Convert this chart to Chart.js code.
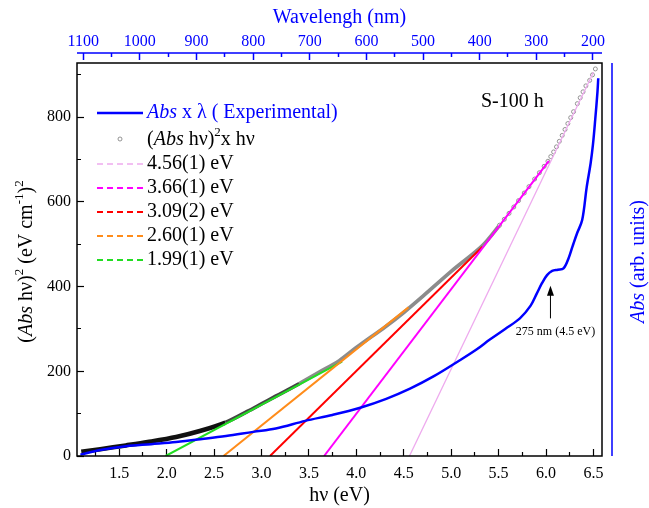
<!DOCTYPE html>
<html>
<head>
<meta charset="utf-8">
<script src="https://cdn.jsdelivr.net/npm/chart.js@4.4.1/dist/chart.umd.min.js"></script>
<style>
  body { margin: 0; background: #fff; }
  canvas { display: block; }
</style>
</head>
<body>
<canvas id="chart" width="649" height="508"></canvas>
<script>
"use strict";

// (Abs hv)^2 (x in eV)
const energyEv = [1.10, 1.30, 1.57, 1.80, 2.10, 2.35, 2.62, 2.85, 3.00, 3.15, 3.40, 3.60, 3.82, 4.00, 4.31, 4.50, 4.72, 5.00, 5.33,
  5.51, 5.56, 5.61, 5.66, 5.71, 5.77, 5.82, 5.88, 5.93, 5.98, 6.02, 6.05, 6.08, 6.11, 6.14, 6.17, 6.20, 6.23, 6.26, 6.29,
  6.33, 6.36, 6.39, 6.42, 6.46, 6.49, 6.52];
const absHvSquared = [10, 16, 25, 33, 45, 59, 79, 105, 123, 141, 171, 197, 225, 256, 306, 339, 381, 436, 497,
  545, 559, 573, 588, 603, 621, 636, 654, 669, 684, 696, 707, 718, 730, 743, 757, 771, 785, 799, 813,
  832, 846, 860, 874, 887, 900, 914];

// blue curve, Abs against wavelength (top and right axes)
const wavelengthNm = [1105, 1070, 1025, 980, 936, 890, 848, 800, 760, 708, 660, 611, 565, 523, 480, 435, 405, 382, 355,
  329, 310, 299, 290, 281, 272, 262, 252, 243, 236, 228, 219, 211, 204, 200, 196, 192, 190.6];
const absArb = [3, 14, 23, 28, 33, 40, 47, 57, 65, 83, 97, 114, 135, 159, 189, 226, 252, 275, 300,
  325, 355, 384, 408, 427, 437, 440, 443, 467, 495, 526, 557, 635, 692, 735, 794, 860, 892];

// Tauc fits: gap (x intercept) and where each line stops
const fitLabels = ["4.56(1) eV", "3.66(1) eV", "3.09(2) eV", "2.60(1) eV", "1.99(1) eV"];
const fitGapEv = [4.56, 3.66, 3.09, 2.60, 1.99];
const fitEndEv = [6.50, 6.03, 5.33, 4.55, 3.85];
const fitEndValue = [906, 697, 494, 351, 223];
const fitColors = ["#eeaaee", "#ff00ff", "#ff0000", "#ff8c1a", "#22dd22"];

const evTickLabels = [1.5, 2.0, 2.5, 3.0, 3.5, 4.0, 4.5, 5.0, 5.5, 6.0, 6.5];
const yTickLabels = [0, 200, 400, 600, 800];
const nmTickLabels = [1100, 1000, 900, 800, 700, 600, 500, 400, 300, 200];

const serif = "'Liberation Serif', 'Times New Roman', serif";
const blue = "#0000ff";

function isIn(list, v) {
  return list.some(t => Math.abs(t - v) < 1e-6);
}

const datasets = [];

datasets.push({
  label: "Abs x λ",
  data: wavelengthNm.map((w, i) => ({ x: w, y: absArb[i] })),
  xAxisID: "x2",
  yAxisID: "y2",
  showLine: true,
  borderColor: blue,
  borderWidth: 2.5,
  pointRadius: 0,
  tension: 0.35,
  order: 1
});

fitLabels.forEach((name, i) => {
  datasets.push({
    label: name,
    data: [{ x: fitGapEv[i], y: 0 }, { x: fitEndEv[i], y: fitEndValue[i] }],
    xAxisID: "x",
    yAxisID: "y",
    showLine: true,
    borderColor: fitColors[i],
    borderWidth: i == 0 ? 1.3 : 2,
    pointRadius: 0,
    order: 2
  });
});

datasets.push({
  label: "(Abs hv)^2",
  data: energyEv.map((e, i) => ({ x: e, y: absHvSquared[i] })),
  xAxisID: "x",
  yAxisID: "y",
  showLine: true,
  tension: 0.3,
  pointRadius: c => (c.raw && c.raw.x >= 5.5 ? 2 : 0),
  pointBorderColor: "#888",
  pointBackgroundColor: "#fff",
  pointBorderWidth: 0.9,
  segment: {
    borderColor: c => {
      const e = c.p0.parsed.x;
      if (e < 2.4) return "#111";
      if (e < 3.3) return "#444";
      if (e < 5.5) return "#8c8c8c";
      return "rgba(0,0,0,0)";
    },
    borderWidth: c => (c.p0.parsed.x < 2.6 ? 4.5 : 3.8)
  },
  order: 3
});

function drawRich(ctx, parts, x, y, size, color) {
  const fontOf = p => (p.italic ? "italic " : "") + Math.round(p.sup ? size * 0.65 : size) + "px " + serif;
  let total = 0;
  parts.forEach(p => { ctx.font = fontOf(p); total += ctx.measureText(p.t).width; });
  let cx = x - total / 2;
  ctx.fillStyle = color;
  ctx.textBaseline = "middle";
  ctx.textAlign = "left";
  parts.forEach(p => {
    ctx.font = fontOf(p);
    ctx.fillText(p.t, cx, p.sup ? y - size * 0.38 : y);
    cx += ctx.measureText(p.t).width;
  });
}

function drawRichLeft(ctx, parts, x, y, size, color) {
  let total = 0;
  parts.forEach(p => {
    ctx.font = (p.italic ? "italic " : "") + Math.round(p.sup ? size * 0.65 : size) + "px " + serif;
    total += ctx.measureText(p.t).width;
  });
  drawRich(ctx, parts, x + total / 2, y, size, color);
}

const decor = {
  id: "decor",
  afterDraw(chart) {
    const ctx = chart.ctx;
    const a = chart.chartArea;
    const ys = chart.scales.y, x2 = chart.scales.x2;
    ctx.save();

    // plot frame
    ctx.strokeStyle = "#000";
    ctx.lineWidth = 1.5;
    ctx.strokeRect(a.left, a.top, a.right - a.left, a.bottom - a.top);

    // blue wavelength axis line and right Abs axis line
    ctx.strokeStyle = blue;
    ctx.lineWidth = 1.5;
    ctx.beginPath();
    ctx.moveTo(a.left, a.top - 10);
    ctx.lineTo(a.right, a.top - 10);
    ctx.moveTo(a.right + 10, a.top);
    ctx.lineTo(a.right + 10, a.bottom);
    ctx.stroke();

    // axis titles
    ctx.textAlign = "center";
    ctx.textBaseline = "middle";
    ctx.font = "20px " + serif;
    ctx.fillStyle = blue;
    ctx.fillText("Wavelengh (nm)", (a.left + a.right) / 2, 18);
    ctx.fillStyle = "#000";
    ctx.fillText("hν (eV)", (a.left + a.right) / 2, 496);

    ctx.save();
    ctx.translate(27, (a.top + a.bottom) / 2 + 2);
    ctx.rotate(-Math.PI / 2);
    drawRich(ctx, [
      { t: "(" }, { t: "Abs", italic: true }, { t: " hν)" }, { t: "2", sup: true },
      { t: " (eV cm" }, { t: "-1", sup: true }, { t: ")" }, { t: "2", sup: true }
    ], 0, 0, 20, "#000");
    ctx.restore();

    ctx.save();
    ctx.translate(a.right + 37, (a.top + a.bottom) / 2 + 2);
    ctx.rotate(-Math.PI / 2);
    drawRich(ctx, [{ t: "Abs", italic: true }, { t: " (arb. units)" }], 0, 0, 20, blue);
    ctx.restore();

    // sample name
    ctx.font = "20px " + serif;
    ctx.fillStyle = "#000";
    ctx.textAlign = "left";
    ctx.fillText("S-100 h", 481, 102);

    // legend
    const lx0 = 97, lx1 = 143, tx = 147;
    ctx.strokeStyle = blue;
    ctx.lineWidth = 2.5;
    ctx.setLineDash([]);
    ctx.beginPath();
    ctx.moveTo(lx0, 113);
    ctx.lineTo(lx1, 113);
    ctx.stroke();
    drawRichLeft(ctx, [{ t: "Abs", italic: true }, { t: " x λ ( Experimental)" }], tx, 113, 20, blue);

    ctx.strokeStyle = "#888";
    ctx.lineWidth = 0.9;
    ctx.fillStyle = "#fff";
    ctx.beginPath();
    ctx.arc(120, 139, 2, 0, Math.PI * 2);
    ctx.fill();
    ctx.stroke();
    drawRichLeft(ctx, [{ t: "(" }, { t: "Abs", italic: true }, { t: " hν)" }, { t: "2", sup: true }, { t: "x hν" }], tx, 140, 20, "#000");

    fitLabels.forEach((name, i) => {
      const y = 164 + i * 24;
      ctx.strokeStyle = fitColors[i];
      ctx.lineWidth = i == 0 ? 1.3 : 2;
      ctx.setLineDash([6, 4]);
      ctx.beginPath();
      ctx.moveTo(lx0, y);
      ctx.lineTo(lx1, y);
      ctx.stroke();
      ctx.setLineDash([]);
      ctx.font = "20px " + serif;
      ctx.fillStyle = "#000";
      ctx.textAlign = "left";
      ctx.fillText(name, tx, y);
    });

    // 275 nm shoulder marker
    const ax = x2.getPixelForValue(275);
    const yTail = ys.getPixelForValue(325);
    const yTip = ys.getPixelForValue(402);
    ctx.strokeStyle = "#000";
    ctx.lineWidth = 1;
    ctx.beginPath();
    ctx.moveTo(ax, yTail);
    ctx.lineTo(ax, yTip + 8);
    ctx.stroke();
    ctx.fillStyle = "#000";
    ctx.beginPath();
    ctx.moveTo(ax, yTip);
    ctx.lineTo(ax - 3.5, yTip + 10);
    ctx.lineTo(ax + 3.5, yTip + 10);
    ctx.closePath();
    ctx.fill();
    ctx.font = "12px " + serif;
    ctx.textAlign = "center";
    ctx.fillText("275 nm (4.5 eV)", ax + 5, ys.getPixelForValue(293));

    ctx.restore();
  }
};

const tickFont = { family: serif, size: 16 };

new Chart(document.getElementById("chart"), {
  type: "scatter",
  data: { datasets: datasets },
  options: {
    responsive: false,
    animation: false,
    devicePixelRatio: 1,
    layout: { padding: { left: 0, right: 47, top: 0, bottom: 0 } },
    plugins: { legend: { display: false }, tooltip: { enabled: false } },
    scales: {
      x: {
        type: "linear",
        position: "bottom",
        min: 1.055,
        max: 6.59,
        border: { display: false },
        grid: {
          drawOnChartArea: false,
          tickLength: -7,
          tickColor: "#000",
          tickWidth: 1.2,
          tickBorderDash: c => (c.tick && isIn(evTickLabels, c.tick.value) ? [] : [4, 20])
        },
        ticks: {
          stepSize: 0.25,
          includeBounds: false,
          autoSkip: false,
          maxRotation: 0,
          padding: 15,
          color: "#000",
          font: tickFont,
          callback: v => (isIn(evTickLabels, v) ? v.toFixed(1) : "")
        },
        afterFit: s => { s.height = 52; }
      },
      x2: {
        type: "linear",
        position: "top",
        reverse: true,
        min: 184,
        max: 1111,
        border: { display: false },
        grid: {
          drawOnChartArea: false,
          tickLength: 10,
          tickColor: blue,
          tickWidth: 1.5,
          tickBorderDash: c => (c.tick && isIn(nmTickLabels, c.tick.value) ? [7, 20] : [4, 20])
        },
        ticks: {
          stepSize: 50,
          includeBounds: false,
          autoSkip: false,
          maxRotation: 0,
          padding: 2,
          color: blue,
          font: tickFont,
          callback: v => (isIn(nmTickLabels, v) ? String(v) : "")
        },
        afterFit: s => { s.height = 63; }
      },
      y: {
        type: "linear",
        position: "left",
        min: 0,
        max: 928,
        border: { display: false },
        grid: {
          drawOnChartArea: false,
          tickLength: -7,
          tickColor: "#000",
          tickWidth: 1.2,
          tickBorderDash: c => (c.tick && isIn(yTickLabels, c.tick.value) ? [] : [0, 3, 4, 20])
        },
        ticks: {
          stepSize: 100,
          includeBounds: false,
          autoSkip: false,
          padding: 13,
          color: "#000",
          font: tickFont,
          callback: v => (isIn(yTickLabels, v) ? String(v) : "")
        },
        afterFit: s => { s.width = 77; }
      },
      y2: {
        type: "linear",
        position: "right",
        display: false,
        min: 0,
        max: 928
      }
    }
  },
  plugins: [decor]
});
</script>
</body>
</html>
